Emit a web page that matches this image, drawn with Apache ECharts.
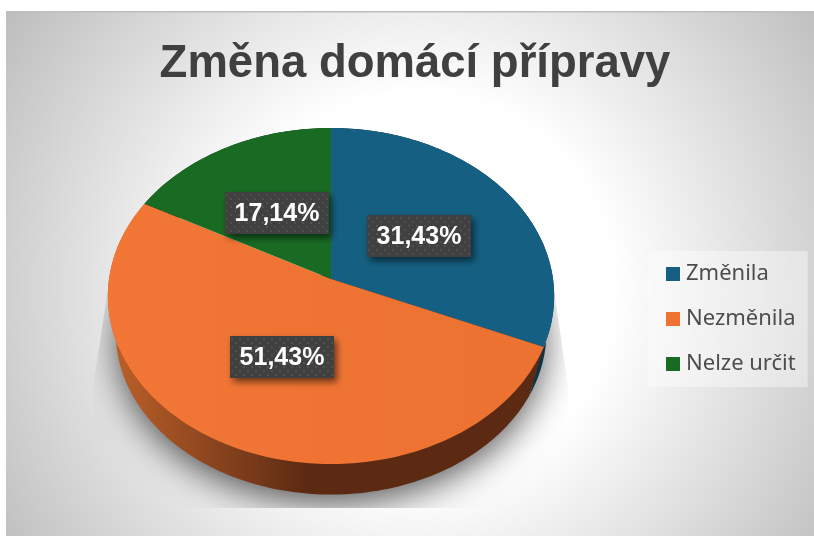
<!DOCTYPE html>
<html><head><meta charset="utf-8">
<style>html,body{margin:0;padding:0;background:#fff}#c{width:814px;height:536px}</style>
<script src="https://cdn.jsdelivr.net/npm/echarts@6/dist/echarts.min.js"></script>
</head><body><div id="c"></div>
<script>
const titleText = 'Změna domácí přípravy';
const categories = ['Změnila', 'Nezměnila', 'Nelze určit'];
const shares = [31.43, 51.43, 17.14];
const topColors = ['#156082', '#EE7333', '#196B24'];

const cx = 331, cy = 279, A = 222, B = 166.3, P = 0.1012;
const LOWER_SCALE = 0.965, LOWER_DROP = 37, SEAM_SKEW = 0.09;
const total = shares.reduce((a, b) => a + b, 0);
function proj(t, s) {
  s = s === undefined ? 1 : s;
  const u = Math.sin(t) * s, v = -Math.cos(t) * s, w = 1 - P * v;
  return [cx + A * u / w, cy + B * v / w];
}
function lower(t, grow) {
  const p = proj(t), k = LOWER_SCALE * (grow || 1);
  return [cx + (p[0] - cx) * k, cy + LOWER_DROP + (p[1] - cy) * k];
}
function sample(t0, t1, fn) {
  const n = Math.max(6, Math.ceil((t1 - t0) / 0.02)), pts = [];
  for (let i = 0; i <= n; i++) pts.push(fn(t0 + (t1 - t0) * i / n));
  return pts;
}
const spans = [];
shares.reduce((acc, v) => {
  spans.push([acc / total * Math.PI * 2, (acc + v) / total * Math.PI * 2]);
  return acc + v;
}, 0);
const sideFills = [
  '#0B3446',
  { type: 'linear', global: true, x: 112, y: 0, x2: 305, y2: 0,
    colorStops: [{ offset: 0, color: '#BC6029' }, { offset: 0.7, color: '#7A3B1A' }, { offset: 1, color: '#5C2A12' }] },
  '#0E3B14'
];
const topFills = [
  topColors[0],
  { type: 'linear', global: true, x: 108, y: 0, x2: 554, y2: 0,
    colorStops: [{ offset: 0, color: '#F27636' }, { offset: 1, color: '#EC7232' }] },
  topColors[2]
];
const dots = document.createElement('canvas');
dots.width = dots.height = 8;
const g = dots.getContext('2d');
g.fillStyle = '#404040'; g.fillRect(0, 0, 8, 8);
g.fillStyle = '#505050';
g.fillRect(1, 1, 2, 2); g.fillRect(5, 5, 2, 2);
const pattern = { image: dots, repeat: 'repeat' };

const series = [];
series.push({
  type: 'custom', coordinateSystem: 'none', silent: true, z: 1, data: [0], clip: false,
  renderItem() {
    return {
      type: 'group',
      clipPath: { type: 'polygon', shape: { points: [[110, 275], [93, 388], [93, 508], [568, 508], [568, 388], [552, 275]] } },
      children: [{
        type: 'polygon', shape: { points: sample(0, Math.PI * 2, t => lower(t, 0.99)) },
        style: { fill: '#5C2A12', shadowBlur: 36, shadowColor: 'rgba(0,0,0,0.68)', shadowOffsetY: 10 }
      }]
    };
  }
});
series.push({
  type: 'custom', coordinateSystem: 'none', silent: true, z: 2, data: shares.map((v, i) => i),
  renderItem(params) {
    const i = params.dataIndex, s = spans[i];
    const pts = sample(s[0], s[1], t => proj(t))
      .concat(sample(s[0] + SEAM_SKEW, s[1] + SEAM_SKEW, t => lower(t)).reverse());
    return { type: 'polygon', shape: { points: pts }, style: { fill: sideFills[i] } };
  }
});
categories.forEach((name, k) => {
  series.push({
    type: 'custom', name, coordinateSystem: 'none', silent: true, z: 3,
    itemStyle: { color: topColors[k] }, data: [shares[k]],
    renderItem() {
      const s = spans[k];
      return { type: 'polygon', shape: { points: [[cx, cy]].concat(sample(s[0], s[1], t => proj(t))) }, style: { fill: topFills[k] } };
    }
  });
});
series.push({
  type: 'custom', coordinateSystem: 'none', silent: true, z: 5, data: shares,
  renderItem(params, api) {
    const s = spans[params.dataIndex], p = proj((s[0] + s[1]) / 2, 0.49);
    const text = api.value(0).toFixed(2).replace('.', ',') + '%';
    return {
      type: 'group', x: Math.round(p[0]), y: Math.round(p[1]) + 1,
      children: [
        { type: 'rect', shape: { x: -52, y: -21, width: 104, height: 42 },
          style: { fill: pattern, shadowBlur: 7, shadowColor: 'rgba(0,0,0,0.55)', shadowOffsetX: 3, shadowOffsetY: 4 } },
        { type: 'text', style: { text, x: 0, y: 1, align: 'center', verticalAlign: 'middle', fill: '#fff',
          font: 'bold 25px "Liberation Sans", Arial, sans-serif' } }
      ]
    };
  }
});

const option = {
  animation: false,
  graphic: [
    { type: 'rect', z: -10, shape: { x: 6, y: 11, width: 808, height: 525 },
      style: { fill: { type: 'radial', global: true, x: 418, y: 290, r: 530,
        colorStops: [{ offset: 0, color: '#ffffff' }, { offset: 0.37, color: '#ffffff' }, { offset: 1, color: '#b6b6b6' }] } } },
    { type: 'rect', z: -9, shape: { x: 6, y: 11, width: 808, height: 1.5 }, style: { fill: '#bdbdbd' } }
  ],
  title: { text: titleText, left: 410, top: 36, textAlign: 'center',
    textStyle: { color: '#404040', fontFamily: '"Liberation Sans", Arial, sans-serif', fontWeight: 'bold', fontSize: 45.5 } },
  legend: {
    data: categories, orient: 'vertical', left: 648, top: 251, icon: 'rect',
    itemWidth: 14, itemHeight: 14, itemGap: 23, padding: [12, 12, 12, 18],
    backgroundColor: 'rgba(255,255,255,0.4)', selectedMode: false,
    textStyle: { color: '#4d4d4d', fontSize: 22, lineHeight: 22, fontFamily: '"Noto Sans", sans-serif', padding: [0, 0, 0, 1] }
  },
  series
};
const chart = echarts.init(document.getElementById('c'), null, { renderer: 'canvas' });
chart.setOption(option);
</script></body></html>
